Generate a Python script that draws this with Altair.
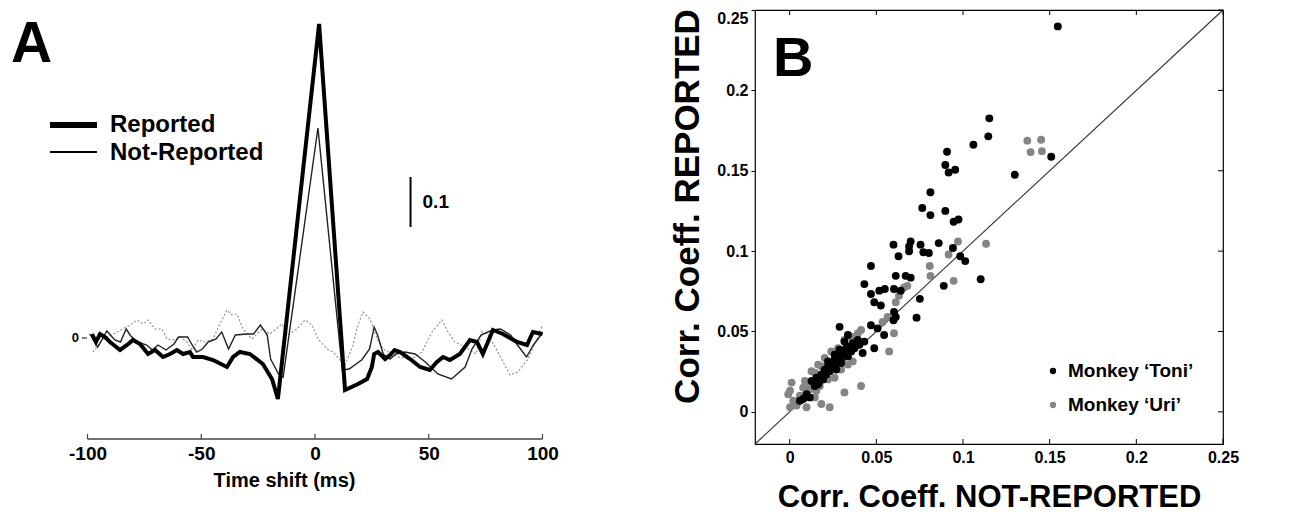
import altair as alt
import pandas as pd

# ---------------- Panel A data ----------------
rep_t = [-98, -96.3, -94.5, -92.3, -90.1, -85.7, -82.6, -80, -76.9, -73.4, -70.3, -66.8, -63.7, -60.7,
         -58, -55, -53.6, -49.2, -44.8, -38.7, -36, -33, -28.6, -22.9, -18.9, -16.3, 1.8, 13.2, 18.9,
         22.9, 25, 26, 27.7, 30.8, 33, 35, 37.4, 41.8, 46.2, 50.5, 53.6, 56.3, 59.3, 63.7, 68.1, 71.2,
         73.8, 78.2, 82.6, 88.8, 93.2, 95.8, 100]
rep_v = [0.008, -0.008, 0.008, 0.002, -0.008, -0.024, -0.014, -0.004, -0.012, -0.032, -0.024, -0.038,
         -0.032, -0.024, -0.032, -0.028, -0.038, -0.038, -0.044, -0.058, -0.038, -0.028, -0.032, -0.052,
         -0.082, -0.122, 0.628, -0.104, -0.092, -0.082, -0.058, -0.032, -0.028, -0.042, -0.034, -0.024,
         -0.028, -0.042, -0.058, -0.064, -0.048, -0.038, -0.044, -0.032, -0.004, -0.008, -0.032, 0.016,
         0.008, -0.008, -0.014, 0.012, 0.008]

nrep_t = [-99, -95.5, -91.5, -88, -85.5, -83, -81, -78, -74, -71.5, -69, -65.5, -62, -60, -56, -54, -52,
          -49.5, -47, -43.5, -41, -38, -35, -30, -27, -24, -21, -19.5, -16, -14, 1.3, 12, 15, 20.5, 24,
          26, 27.5, 30, 33, 35.5, 39.5, 44, 48.5, 54, 60, 66, 69, 73, 78, 81.5, 86, 89, 93, 96, 100]
nrep_v = [0.008, -0.018, 0.014, -0.004, -0.008, 0.018, 0.004, -0.008, -0.014, -0.024, -0.014, -0.024,
          -0.012, 0.002, 0.002, -0.014, -0.028, -0.022, -0.008, -0.002, 0.012, -0.022, 0.006, 0.008,
          0.008, 0.026, 0.006, -0.042, -0.072, -0.078, 0.42, -0.064, -0.062, -0.044, -0.022, 0.022,
          0.006, -0.032, -0.042, -0.032, -0.028, -0.032, -0.048, -0.072, -0.082, -0.058, -0.022, 0.006,
          0.016, 0.018, 0.006, -0.014, -0.038, -0.014, 0.010]

shuf_t = [-97.6, -93.2, -87, -81.3, -78.2, -75.6, -73.4, -70.3, -67.3, -65, -61.5, -59.3, -56.3, -54,
          -51.4, -48.4, -44.8, -41.8, -38.7, -36.5, -34.3, -31.6, -27.7, -23.3, -19.8, -14.5, -11.9,
          -7.9, -4.4, -1.3, 1.3, 5.3, 7.9, 11.9, 13.2, 16.7, 18.9, 21.1, 24.2, 27.3, 29.9, 36.5, 42.6,
          47, 51.4, 55.8, 58.5, 61.5, 65.9, 70.8, 73.4, 76, 80.4, 85.7, 89.2, 93.6, 97.6, 100]
shuf_v = [-0.028, -0.002, 0.012, 0.026, 0.036, 0.028, 0.036, 0.018, 0.018, -0.002, -0.004, 0.002,
          -0.008, -0.024, -0.004, -0.008, -0.002, 0.028, 0.056, 0.046, 0.048, 0.018, -0.002, 0.018,
          0.008, 0.028, 0.006, 0.018, 0.036, 0.026, -0.002, -0.022, -0.028, -0.048, -0.054, -0.014,
          0.026, 0.052, 0.038, -0.002, -0.022, -0.038, -0.042, -0.028, 0.012, 0.036, 0.012, -0.008,
          -0.018, -0.032, 0.012, 0.008, -0.028, -0.074, -0.068, -0.042, -0.002, 0.026]

a_ticks = [-100, -50, 0, 50, 100]
a_legend = ["Reported", "Not-Reported"]
scale_bar_t = [42]
scale_bar_v = [0.222]
scale_bar_len = 0.1

# ---------------- Panel B data ----------------
toni_x = [0.1547, 0.1152, 0.1146, 0.1060, 0.0908, 0.0898, 0.0917, 0.0955, 0.0812, 0.0765, 0.0812,
          0.0898, 0.0946, 0.0974, 0.1299, 0.1509, 0.0599, 0.0628, 0.0689, 0.0698, 0.0689, 0.0755,
          0.0771, 0.0803, 0.0860, 0.0942, 0.0984, 0.1013, 0.0469,
          0.1102, 0.0889, 0.0751, 0.0732, 0.0431, 0.0469, 0.0517, 0.0549, 0.0602, 0.0641, 0.0669,
          0.0698, 0.0612, 0.0488, 0.0526, 0.0602, 0.0612, 0.0599, 0.0469, 0.0507, 0.0545, 0.0288,
          0.0336, 0.0488, 0.0421,
          0.0126, 0.0154, 0.0183, 0.0202, 0.0221, 0.0240, 0.0259, 0.0279, 0.0307, 0.0326, 0.0345,
          0.0364, 0.0393, 0.0240, 0.0259, 0.0279, 0.0297, 0.0316, 0.0212, 0.0174, 0.0145, 0.0097,
          0.0078, 0.0059, 0.0116, 0.0355, 0.0374, 0.0402, 0.0431, 0.0336, 0.0297, 0.0269, 0.0231,
          0.0193, 0.0164, 0.0316, 0.0259, 0.0221, 0.0288]
toni_y = [0.2398, 0.1826, 0.1714, 0.1662, 0.1618, 0.1536, 0.1489, 0.1506, 0.1366, 0.1268, 0.1224,
          0.1250, 0.1183, 0.1197, 0.1475, 0.1587, 0.1040, 0.0968, 0.1029, 0.1060, 0.0999, 0.1040,
          0.0993, 0.0988, 0.1050, 0.1019, 0.0968, 0.0938, 0.0907,
          0.0825, 0.0784, 0.0703, 0.0586, 0.0795, 0.0733, 0.0754, 0.0764, 0.0764, 0.0754, 0.0846,
          0.0835, 0.0846, 0.0682, 0.0662, 0.0621, 0.0590, 0.0570, 0.0539, 0.0519, 0.0478, 0.0529,
          0.0478, 0.0396, 0.0366,
          0.0192, 0.0212, 0.0233, 0.0263, 0.0284, 0.0304, 0.0325, 0.0355, 0.0376, 0.0396, 0.0406,
          0.0427, 0.0447, 0.0274, 0.0294, 0.0314, 0.0335, 0.0355, 0.0233, 0.0192, 0.0161, 0.0110,
          0.0080, 0.0069, 0.0090, 0.0376, 0.0396, 0.0417, 0.0437, 0.0345, 0.0304, 0.0263, 0.0253,
          0.0202, 0.0172, 0.0437, 0.0355, 0.0314, 0.0386]

uri_x = [0.1371, 0.1451, 0.1390, 0.1455, 0.0971, 0.1133, 0.0917, 0.0808,
         0.0002, -0.0008, 0.0011, 0.0088, 0.0078, 0.0021, 0.0002, 0.0040, 0.0097, 0.0145, 0.0183,
         0.0231, 0.0316, 0.0412, 0.0574, 0.0602, 0.0679, 0.0946, 0.0812, 0.0126, 0.0164, 0.0202,
         0.0240, 0.0279, 0.0316, 0.0355, 0.0393, 0.0412, 0.0536, 0.0565, 0.0612, 0.0631, 0.0660,
         0.0116, 0.0154, 0.0059, 0.0107, 0.0174, 0.0221, 0.0259, 0.0297, 0.0336, 0.0364, 0.0183,
         0.0145]
uri_y = [0.1687, 0.1693, 0.1616, 0.1622, 0.1060, 0.1046, 0.0979, 0.0907,
         0.0131, 0.0110, 0.0182, 0.0192, 0.0151, 0.0069, 0.0029, 0.0039, 0.0029, 0.0090, 0.0049,
         0.0029, 0.0121, 0.0161, 0.0376, 0.0489, 0.0784, 0.0815, 0.0846, 0.0253, 0.0294, 0.0335,
         0.0376, 0.0396, 0.0447, 0.0467, 0.0488, 0.0509, 0.0559, 0.0590, 0.0682, 0.0723, 0.0774,
         0.0141, 0.0131, 0.0100, 0.0161, 0.0161, 0.0202, 0.0212, 0.0263, 0.0294, 0.0314, 0.0284,
         0.0243]

b_ticks = [0, 0.05, 0.1, 0.15, 0.2, 0.25]
diag = [-0.02, 0.25]
b_legend = ["Monkey \u2018Toni\u2019", "Monkey \u2018Uri\u2019"]

FA = "Liberation Sans, Arial, sans-serif"
FB = "Liberation Sans, Arial, sans-serif"

# ---------------- Panel A ----------------
WA, HA = 552, 429
xA = alt.X("t:Q", scale=alt.Scale(domain=[-134.95, 107.7], nice=False, zero=False),
           axis=alt.Axis(values=a_ticks, labelExpr="'' + datum.value", domain=False, ticks=False,
                         tickSize=0, grid=False,
                         labelFont=FA, labelFontSize=19, labelFontWeight="bold", labelColor="black",
                         labelPadding=5, labelFlush=False,
                         title="Time shift (ms)", titleFont=FA, titleFontSize=20,
                         titleFontWeight="bold", titleColor="black", titlePadding=7))
yA = alt.Y("v:Q", scale=alt.Scale(domain=[-0.202, 0.656], nice=False, zero=False), axis=None)

df_rep = pd.DataFrame({"t": rep_t, "v": rep_v})
df_nrep = pd.DataFrame({"t": nrep_t, "v": nrep_v})
df_shuf = pd.DataFrame({"t": shuf_t, "v": shuf_v})

shuf_line = alt.Chart(df_shuf).mark_line(color="#8a8a8a", strokeWidth=1.1, strokeDash=[2, 2]).encode(
    x=xA, y=yA, order="t:Q")
nrep_line = alt.Chart(df_nrep).mark_line(color="#222222", strokeWidth=1.4).encode(x=xA, y=yA, order="t:Q")
rep_line = alt.Chart(df_rep).mark_line(color="black", strokeWidth=4, strokeJoin="miter").encode(
    x=xA, y=yA, order="t:Q")

df_axis = pd.DataFrame({"t": [min(a_ticks)], "t2": [max(a_ticks)]})
axis_line = alt.Chart(df_axis).mark_rule(color="#444444", strokeWidth=1.5).encode(
    x=xA, x2="t2:Q", y=alt.value(HA))
df_ticks = pd.DataFrame({"t": a_ticks})
axis_ticks = alt.Chart(df_ticks).mark_rule(color="#444444", strokeWidth=1.2).encode(
    x=xA, y=alt.value(HA - 5), y2=alt.value(HA))

df_zero = pd.DataFrame({"v": [0], "lab": ["0"]})
zero_text = alt.Chart(df_zero).mark_text(font=FA, fontSize=13, fontWeight="bold", align="right",
                                         baseline="middle", color="black").encode(
    x=alt.value(71), y=yA, text="lab:N")
zero_tick = alt.Chart(df_zero).mark_rule(color="black", strokeWidth=1).encode(
    x=alt.value(74), x2=alt.value(79), y=yA)

df_sb = pd.DataFrame({"t": scale_bar_t, "v": scale_bar_v,
                      "v2": [scale_bar_v[0] + scale_bar_len],
                      "vm": [scale_bar_v[0] + scale_bar_len / 2], "lab": [str(scale_bar_len)]})
sb_rule = alt.Chart(df_sb).mark_rule(color="black", strokeWidth=2).encode(x=xA, y=yA, y2="v2:Q")
sb_text = alt.Chart(df_sb).mark_text(font=FA, fontSize=19, fontWeight="bold", align="left",
                                     baseline="middle", dx=12, color="black").encode(
    x=xA, y=alt.Y("vm:Q"), text="lab:N")

df_leg = pd.DataFrame({"lab": a_legend, "yy": [115, 143]})
leg_thick = alt.Chart(df_leg.iloc[[0]]).mark_rule(color="black", strokeWidth=6).encode(
    x=alt.value(42), x2=alt.value(89), y=alt.value(115))
leg_thin = alt.Chart(df_leg.iloc[[1]]).mark_rule(color="black", strokeWidth=2).encode(
    x=alt.value(42), x2=alt.value(89), y=alt.value(142))
leg_text = alt.Chart(df_leg).mark_text(font=FA, fontSize=24, fontWeight="bold", align="left",
                                       baseline="middle", color="black").encode(
    x=alt.value(102), y=alt.Y("yy:Q", scale=None), text="lab:N")

letterA = alt.Chart(pd.DataFrame({"lab": ["A"]})).mark_text(
    font=FA, fontSize=57, fontWeight="bold", align="left", baseline="alphabetic", color="black").encode(
    x=alt.value(3), y=alt.value(52), text="lab:N")

panelA = alt.layer(shuf_line, nrep_line, rep_line, axis_line, axis_ticks, zero_text, zero_tick,
                   sb_rule, sb_text, leg_thick, leg_thin, leg_text, letterA).properties(
    width=WA, height=HA)

# ---------------- Panel B ----------------
WB, HB = 468, 434
scB = alt.Scale(domain=[-0.02, 0.25], nice=False, zero=False)
xB = alt.X("x:Q", scale=scB,
           axis=alt.Axis(values=b_ticks, format="~g", domain=False, ticks=False, tickSize=0, grid=False,
                         labelFont=FB, labelFontSize=16, labelFontWeight="bold", labelColor="black",
                         labelPadding=5, labelFlush=False,
                         title="Corr. Coeff. NOT-REPORTED", titleFont=FB, titleFontSize=31,
                         titleFontWeight="bold", titleColor="black", titlePadding=17))
yB = alt.Y("y:Q", scale=scB,
           axis=alt.Axis(values=b_ticks, format="~g", domain=False, ticks=True, tickSize=4,
                         tickColor="black", grid=False,
                         labelFont=FB, labelFontSize=16, labelFontWeight="bold", labelColor="black",
                         labelPadding=3, labelFlush=True,
                         title="Corr. Coeff. REPORTED", titleFont=FB, titleFontSize=35,
                         titleFontWeight="bold", titleColor="black", titlePadding=11, titleY=196))

df_diag = pd.DataFrame({"x": [diag[0]], "y": [diag[0]], "x2": [diag[1]], "y2": [diag[1]]})
diag_rule = alt.Chart(df_diag).mark_rule(color="#333333", strokeWidth=1.1).encode(
    x=xB, y=yB, x2="x2:Q", y2="y2:Q")

df_uri = pd.DataFrame({"x": uri_x, "y": uri_y})
df_toni = pd.DataFrame({"x": toni_x, "y": toni_y})
uri_pts = alt.Chart(df_uri).mark_circle(size=62, color="#858585", opacity=1).encode(x=xB, y=yB)
toni_pts = alt.Chart(df_toni).mark_circle(size=62, color="black", opacity=1).encode(x=xB, y=yB)

df_bt = pd.DataFrame({"x": b_ticks, "y": b_ticks})
top_ticks = alt.Chart(df_bt).mark_rule(color="black", strokeWidth=1).encode(
    x=xB, y=alt.value(0), y2=alt.value(5))
bot_ticks = alt.Chart(df_bt).mark_rule(color="black", strokeWidth=1).encode(
    x=xB, y=alt.value(HB - 5), y2=alt.value(HB))
right_ticks = alt.Chart(df_bt).mark_rule(color="black", strokeWidth=1).encode(
    y=yB, x=alt.value(WB - 5), x2=alt.value(WB))

df_bleg = pd.DataFrame({"lab": b_legend, "yy": [361, 395], "col": ["black", "#858585"]})
bleg_pts = alt.Chart(df_bleg).mark_circle(size=40, opacity=1).encode(
    x=alt.value(298), y=alt.Y("yy:Q", scale=None), color=alt.Color("col:N", scale=None))
bleg_text = alt.Chart(df_bleg).mark_text(font=FB, fontSize=19, fontWeight="bold", align="left",
                                         baseline="middle", color="black").encode(
    x=alt.value(313), y=alt.Y("yy:Q", scale=None), text="lab:N")

letterB = alt.Chart(pd.DataFrame({"lab": ["B"]})).mark_text(
    font=FB, fontSize=56, fontWeight="bold", align="left", baseline="alphabetic", color="black").encode(
    x=alt.value(18), y=alt.value(66), text="lab:N")

panelB = alt.layer(diag_rule, uri_pts, toni_pts, top_ticks, bot_ticks, right_ticks,
                   bleg_pts, bleg_text, letterB).properties(
    width=WB, height=HB, view=alt.ViewBackground(stroke="black", strokeWidth=1.2))

chart = alt.hconcat(panelA, panelB, spacing=195, bounds="flush").properties(
    padding=0, background="white").configure_view(stroke=None)

chart.save("out.html", embed_options={"renderer": "svg", "actions": False})
